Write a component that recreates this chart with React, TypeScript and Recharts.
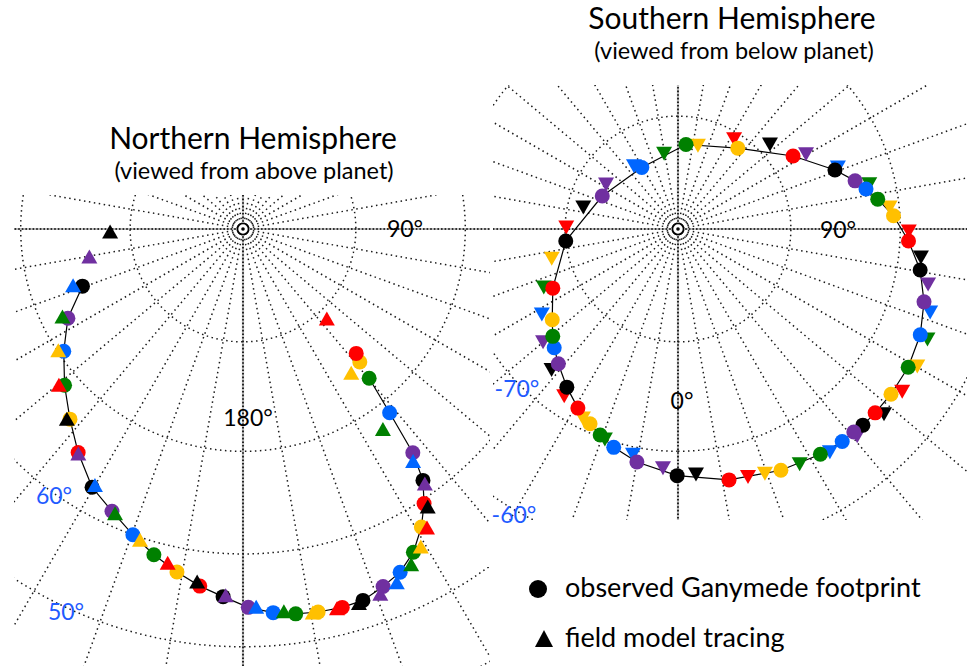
import React from "react";
import { ScatterChart, Scatter, XAxis, YAxis, ReferenceLine } from "recharts";

// colour codes used in the point lists: k black, p purple, b blue, g green, y yellow, r red
const COLORS: Record<string, string> = {
  k: "#000000",
  p: "#7030a0",
  b: "#0066ff",
  g: "#008000",
  y: "#ffc000",
  r: "#ff0000",
};

// Northern hemisphere - observed Ganymede footprint (latitude, longitude)
const NORTH_OBS_LAT = [74.8, 72.4, 70.5, 68.6, 66.7, 64.7, 62.6, 61.4, 60.0, 58.7, 57.5, 56.4, 55.5, 54.4, 53.7, 53.3, 53.1, 53.0, 53.1, 53.8, 54.5, 55.8, 57.7, 59.6, 61.6, 64.4, 68.8, 72.5, 74.2, 75.0];
const NORTH_OBS_LON = [250.4, 243.0, 235.7, 228.8, 222.3, 216.4, 210.3, 204.9, 199.8, 195.3, 190.9, 186.9, 183.1, 179.2, 175.5, 172.2, 168.9, 165.3, 162.1, 158.6, 155.4, 152.2, 149.1, 146.6, 144.4, 142.8, 141.4, 139.8, 138.7, 137.7];
const NORTH_OBS_COLOR = ["k", "p", "b", "g", "y", "r", "k", "p", "b", "g", "y", "r", "k", "p", "b", "g", "y", "r", "k", "p", "b", "g", "y", "r", "k", "p", "b", "g", "y", "r"];
const NORTH_OVAL_COUNT = 28;

// Northern hemisphere - field model tracing
const NORTH_MODEL_LAT = [78.2, 76.1, 74.0, 72.0, 70.1, 68.2, 66.5, 64.6, 62.9, 61.3, 59.7, 58.2, 56.8, 55.6, 54.4, 53.7, 53.1, 53.0, 52.9, 53.1, 53.6, 54.7, 55.9, 57.3, 59.1, 61.2, 63.7, 67.9, 73.9, 79.1];
const NORTH_MODEL_LON = [268.7, 259.7, 251.5, 244.0, 236.6, 229.7, 222.8, 216.2, 210.0, 204.2, 198.3, 192.7, 187.4, 182.7, 178.0, 173.9, 169.7, 166.1, 162.8, 159.4, 156.5, 153.4, 150.8, 148.4, 146.4, 144.5, 143.8, 145.1, 143.1, 137.0];
const NORTH_MODEL_COLOR = ["k", "p", "b", "g", "y", "r", "k", "p", "b", "g", "y", "r", "k", "p", "b", "g", "y", "r", "k", "p", "b", "g", "y", "r", "k", "p", "b", "g", "y", "r"];

// Southern hemisphere - observed Ganymede footprint
const SOUTH_OBS_LAT = [-80.0, -82.7, -83.7, -82.5, -81.1, -77.9, -75.05, -73.6, -72.8, -71.9, -70.6, -69.2, -67.8, -66.75, -66.0, -65.6, -65.5, -65.5, -65.5, -65.6, -65.6, -65.8, -66.2, -66.8, -67.7, -68.65, -69.5, -70.2, -70.8, -71.6, -72.7, -73.9, -74.7, -75.3, -76.2, -77.7];
const SOUTH_OBS_LON = [276.1, 246.5, 210.5, 174.6, 143.5, 122.4, 110.6, 105.2, 102.0, 98.5, 93.5, 87.0, 80.4, 73.5, 66.4, 59.0, 52.2, 47.0, 43.3, 40.9, 37.7, 32.3, 23.1, 11.5, 359.8, 350.0, 343.6, 339.3, 335.7, 330.8, 324.9, 318.4, 313.8, 310.6, 305.8, 295.3];
const SOUTH_OBS_COLOR = ["k", "p", "b", "g", "y", "r", "k", "p", "b", "g", "y", "r", "k", "p", "b", "g", "y", "r", "k", "p", "b", "g", "y", "r", "k", "p", "b", "g", "y", "r", "k", "p", "b", "g", "y", "r"];

// Southern hemisphere - field model tracing
const SOUTH_MODEL_LAT = [-80.1, -81.4, -82.5, -83.2, -83.2, -82.4, -80.6, -78.9, -76.8, -74.7, -72.4, -70.9, -69.2, -67.9, -66.8, -65.9, -65.2, -64.9, -64.8, -64.8, -65.1, -65.5, -66.0, -66.5, -66.7, -67.8, -68.4, -69.3, -70.0, -71.0, -71.9, -73.1, -74.3, -75.7, -77.0, -78.5];
const SOUTH_MODEL_LON = [269.0, 257.0, 238.0, 214.9, 190.4, 166.6, 148.1, 132.7, 120.4, 111.2, 103.3, 95.9, 89.5, 83.4, 77.6, 71.8, 66.2, 60.2, 54.1, 48.1, 40.9, 34.3, 27.4, 19.6, 15.8, 4.2, 356.4, 348.7, 340.8, 333.3, 325.7, 318.0, 309.9, 302.0, 293.4, 283.0];
const SOUTH_MODEL_COLOR = ["r", "k", "p", "b", "g", "y", "r", "k", "p", "b", "g", "y", "r", "k", "p", "b", "g", "y", "r", "k", "p", "b", "g", "y", "r", "k", "p", "b", "g", "y", "r", "k", "p", "b", "g", "y"];

// graticule
const NORTH_GRID_LATS = [80, 70, 60, 50, 40];
const SOUTH_GRID_LATS = [-80, -70, -60, -50];
const GRID_LONS = [10, 20, 30, 40, 50, 60, 70, 80, 100, 110, 120, 130, 140, 150, 160, 170, 190, 200, 210, 220, 230, 240, 250, 260, 280, 290, 300, 310, 320, 330, 340, 350];
const AXIS_LONS = [0, 90, 180, 270];

const DEG = Math.PI / 180;

// orthographic polar projection, unit sphere
const project = (lat: number, lon: number, south: boolean) => {
  const r = Math.cos(lat * DEG);
  return {
    x: r * Math.sin(lon * DEG),
    y: south ? -r * Math.cos(lon * DEG) : r * Math.cos(lon * DEG),
  };
};

const buildPoints = (lats: number[], lons: number[], colors: string[], south: boolean) =>
  lats.map((lat, i) => ({ ...project(lat, lons[i], south), color: COLORS[colors[i]] }));

const circleOf = (lat: number, south: boolean) => {
  const pts = [];
  for (let lon = 0; lon <= 360; lon += 2) pts.push(project(lat, lon, south));
  return pts;
};

const emptyShape = () => <g />;
const dotShape = (p: any) => <circle cx={p.cx} cy={p.cy} r={7.5} fill={p.payload.color} />;
const upTriangle = (p: any) => (
  <path d={`M${p.cx},${p.cy - 7.5}L${p.cx + 8},${p.cy + 6.5}L${p.cx - 8},${p.cy + 6.5}Z`} fill={p.payload.color} />
);
const downTriangle = (p: any) => (
  <path d={`M${p.cx},${p.cy + 7.5}L${p.cx + 8},${p.cy - 6.5}L${p.cx - 8},${p.cy - 6.5}Z`} fill={p.payload.color} />
);
const poleShape = (p: any) => (
  <g>
    <circle cx={p.cx} cy={p.cy} r={5.5} fill="#fff" stroke="#000" strokeWidth={1.6} />
    <circle cx={p.cx} cy={p.cy} r={1.8} fill="#000" />
  </g>
);

const DOTS = { stroke: "#1a1a1a", strokeWidth: 1.5, strokeDasharray: "1.5 3.5" };

interface HemiProps {
  left: number;
  top: number;
  width: number;
  height: number;
  xDomain: [number, number];
  yDomain: [number, number];
  south: boolean;
  gridLats: number[];
  obs: any[];
  model: any[];
  oval: any[];
}

const Hemisphere: React.FC<HemiProps> = ({ left, top, width, height, xDomain, yDomain, south, gridLats, obs, model, oval }) => {
  const end = (lon: number) => project(0, lon, south);
  const markers = [
    <Scatter key="obs" data={obs} shape={dotShape} isAnimationActive={false} />,
    <Scatter key="model" data={model} shape={south ? downTriangle : upTriangle} isAnimationActive={false} />,
  ];
  return (
    <div style={{ position: "absolute", left, top }}>
      <ScatterChart width={width} height={height} margin={{ top: 0, right: 0, bottom: 0, left: 0 }}>
        <XAxis type="number" dataKey="x" domain={xDomain} hide allowDataOverflow />
        <YAxis type="number" dataKey="y" domain={yDomain} hide allowDataOverflow />
        {gridLats.map((lat) => (
          <Scatter key={`c${lat}`} data={circleOf(lat, south)} shape={emptyShape} line={DOTS} isAnimationActive={false} />
        ))}
        {GRID_LONS.map((lon) => (
          <ReferenceLine key={`m${lon}`} segment={[{ x: 0, y: 0 }, end(lon)]} ifOverflow="hidden" {...DOTS} />
        ))}
        {AXIS_LONS.map((lon) => (
          <ReferenceLine key={`a${lon}`} segment={[{ x: 0, y: 0 }, end(lon)]} ifOverflow="hidden" stroke="#bdbdbd" strokeWidth={2.2} />
        ))}
        {AXIS_LONS.map((lon) => (
          <ReferenceLine key={`ad${lon}`} segment={[{ x: 0, y: 0 }, end(lon)]} ifOverflow="hidden" stroke="#000" strokeWidth={1.6} strokeDasharray="1.6 2" />
        ))}
        <Scatter data={[{ x: 0, y: 0 }]} shape={poleShape} isAnimationActive={false} />
        <Scatter data={oval} shape={emptyShape} line={{ stroke: "#000", strokeWidth: 1.2 }} isAnimationActive={false} />
        {south ? markers.reverse() : markers}
      </ScatterChart>
    </div>
  );
};

const northObs = buildPoints(NORTH_OBS_LAT, NORTH_OBS_LON, NORTH_OBS_COLOR, false);
const northModel = buildPoints(NORTH_MODEL_LAT, NORTH_MODEL_LON, NORTH_MODEL_COLOR, false);
const southObs = buildPoints(SOUTH_OBS_LAT, SOUTH_OBS_LON, SOUTH_OBS_COLOR, true);
const southModel = buildPoints(SOUTH_MODEL_LAT, SOUTH_MODEL_LON, SOUTH_MODEL_COLOR, true);

const FONT = "Lato, 'Open Sans', sans-serif";
const BLUE = "#1f5bff";

export default function App() {
  return (
    <div style={{ position: "absolute", left: 0, top: 0, width: 967, height: 666, overflow: "hidden", background: "#fff", fontFamily: FONT }}>
      <Hemisphere
        left={14}
        top={195}
        width={476}
        height={471}
        xDomain={[-0.3523, 0.38]}
        yDomain={[-0.6723, 0.0523]}
        south={false}
        gridLats={NORTH_GRID_LATS}
        obs={northObs}
        model={northModel}
        oval={northObs.slice(0, NORTH_OVAL_COUNT)}
      />
      <Hemisphere
        left={493}
        top={85}
        width={474}
        height={435}
        xDomain={[-0.2846, 0.4446]}
        yDomain={[-0.4477, 0.2215]}
        south={true}
        gridLats={SOUTH_GRID_LATS}
        obs={southObs}
        model={southModel}
        oval={[...southObs, southObs[0]]}
      />
      <svg width={967} height={666} style={{ position: "absolute", left: 0, top: 0, pointerEvents: "none" }} fontFamily={FONT}>
        <text x={253} y={148.5} fontSize={30} textAnchor="middle" fill="#000">Northern Hemisphere</text>
        <text x={254} y={178.5} fontSize={23.5} textAnchor="middle" fill="#000">(viewed from above planet)</text>
        <text x={732} y={28.5} fontSize={30} textAnchor="middle" fill="#000">Southern Hemisphere</text>
        <text x={734} y={58.5} fontSize={23.5} textAnchor="middle" fill="#000">(viewed from below planet)</text>

        <g fontSize={23} textAnchor="middle" dominantBaseline="central">
          <text x={405} y={228} fill="#000">90°</text>
          <text x={248} y={417} fill="#000">180°</text>
          <text x={54} y={495} fill={BLUE}>60°</text>
          <text x={66} y={611} fill={BLUE}>50°</text>
          <text x={838} y={229} fill="#000">90°</text>
          <text x={682} y={400} fill="#000">0°</text>
          <text x={517} y={388} fill={BLUE}>-70°</text>
          <text x={514} y={514} fill={BLUE}>-60°</text>
        </g>

        <circle cx={538} cy={589} r={9} fill="#000" />
        <path d="M544,630L553,647L535,647Z" fill="#000" />
        <text x={565} y={597} fontSize={27} fill="#000">observed Ganymede footprint</text>
        <text x={565} y={647} fontSize={27} fill="#000">field model tracing</text>
      </svg>
    </div>
  );
}
